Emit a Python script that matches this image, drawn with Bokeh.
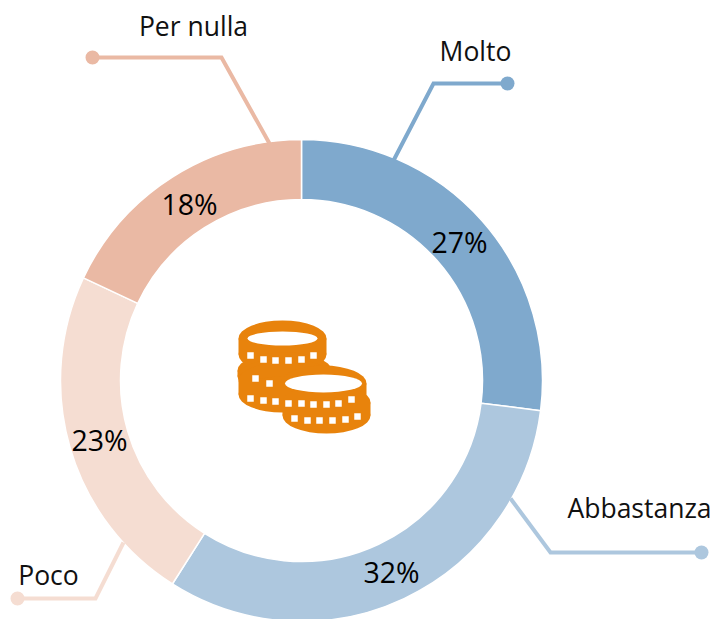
from math import pi
from bokeh.plotting import figure
from bokeh.models import Range1d
from bokeh.core.properties import value
from bokeh.embed import file_html
from bokeh.resources import INLINE

categories = ["Molto", "Abbastanza", "Poco", "Per nulla"]
shares = [27, 32, 23, 18]
pct_labels = ["27%", "32%", "23%", "18%"]
colors = ["#7FA9CD", "#ADC7DE", "#F5DDD2", "#EAB9A4"]

W, H = 716, 619
FONT = value("Open Sans")
def Y(py):
    return 619 - py

p = figure(width=W, height=H, output_backend="svg", toolbar_location=None,
           x_range=Range1d(0, W), y_range=Range1d(0, H),
           min_border=0, outline_line_color=None, background_fill_color="white")
p.axis.visible = False
p.grid.visible = False

cx, cy, r_out, r_in = 301, 380, 241, 181
cum = 0
for cat, s, c in zip(categories, shares, colors):
    start = pi / 2 - 2 * pi * cum / 100
    end = pi / 2 - 2 * pi * (cum + s) / 100
    p.annular_wedge(x=cx, y=Y(cy), inner_radius=r_in, outer_radius=r_out,
                    start_angle=end, end_angle=start, fill_color=c,
                    line_color="white", line_width=1.5)
    cum += s

# leader lines: dot, elbow, end on the ring
leaders = {
    "Molto": [(507, 83), (433, 83), (393, 160)],
    "Abbastanza": [(701, 552), (550, 552), (510, 498)],
    "Poco": [(17, 598), (95, 598), (123, 542)],
    "Per nulla": [(92, 57), (221, 57), (269, 143)],
}
for cat, c in zip(categories, colors):
    pts = leaders[cat]
    p.line([q[0] for q in pts], [Y(q[1]) for q in pts], line_color=c, line_width=4, line_join="miter")
    p.circle(x=[pts[0][0]], y=[Y(pts[0][1])], radius=7, fill_color=c, line_color=None)

# category labels
cat_pos = {"Molto": (475, 50), "Abbastanza": (639, 507), "Poco": (48, 574), "Per nulla": (193, 25)}
for cat in categories:
    x, y = cat_pos[cat]
    p.text(x=[x], y=[Y(y)], text=[cat], text_font=FONT, text_font_size="26.5px", text_color="#111111",
           text_align="center", text_baseline="alphabetic")

# percent labels
pct_pos = [(459, 241), (391, 571), (99, 439), (189, 203)]
for t, (x, y) in zip(pct_labels, pct_pos):
    p.text(x=[x], y=[Y(y)], text=[t], text_font=FONT, text_font_size="28.5px", text_color="#000000",
           text_align="center", text_baseline="alphabetic")

# coin icon
ORANGE = "#E8830C"
def coin_body(x, ytop, ybot, rx, ry=18):
    p.ellipse(x=[x], y=[Y(ytop)], width=2 * rx, height=2 * ry, fill_color=ORANGE, line_color=None)
    p.ellipse(x=[x], y=[Y(ybot)], width=2 * rx, height=2 * ry, fill_color=ORANGE, line_color=None)
    p.rect(x=[x], y=[Y((ytop + ybot) / 2)], width=2 * rx, height=ybot - ytop, fill_color=ORANGE, line_color=None)

coin_body(282, 338, 354, 44)
coin_body(284, 370, 376, 47)
coin_body(282, 380, 394, 44)
coin_body(323, 383, 400, 43)
coin_body(326, 402, 415, 44)

p.ellipse(x=[282], y=[Y(338)], width=70, height=14, fill_color="white", line_color=None)
p.ellipse(x=[323], y=[Y(383)], width=77, height=18, fill_color="white", line_color=None)

squares = [(250, 355), (263, 359), (275, 360), (288, 360), (301, 359), (313, 355),
           (255, 378), (269, 383),
           (250, 398), (263, 400), (275, 401),
           (288, 403), (301, 403), (313, 404), (326, 404), (338, 403), (351, 399),
           (294, 418), (307, 420), (319, 420), (332, 420), (345, 419), (357, 416)]
p.rect(x=[q[0] for q in squares], y=[Y(q[1]) for q in squares], width=6.5, height=6.5,
       fill_color="white", line_color=None)

open("out.html", "w").write(file_html(p, INLINE))
